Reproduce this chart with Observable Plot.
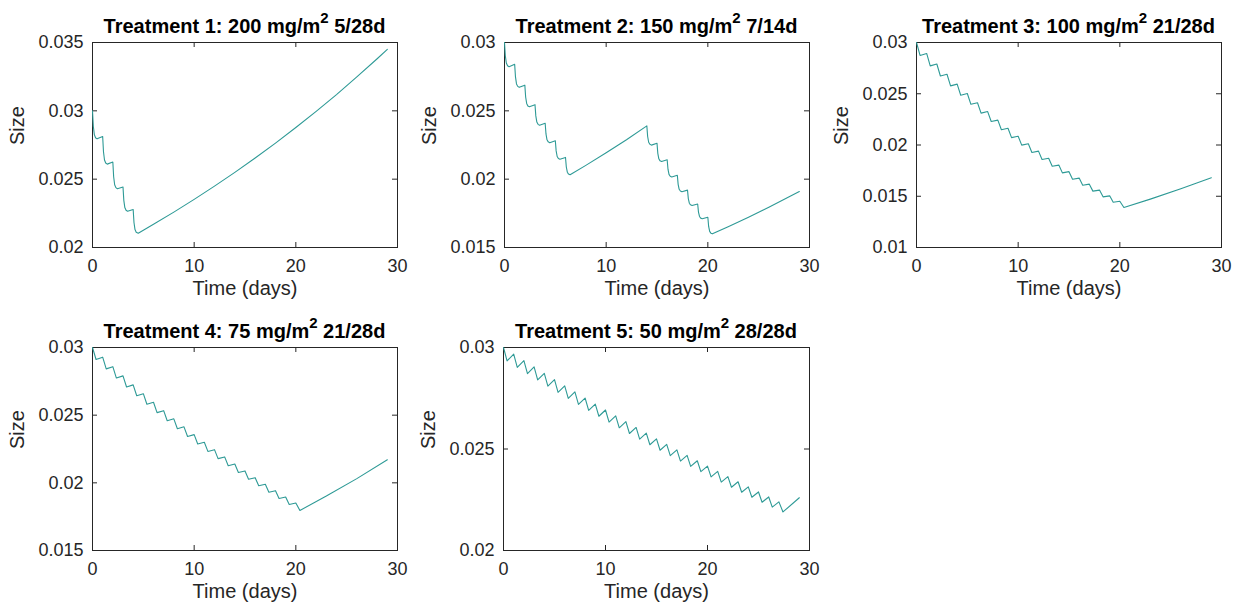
<!DOCTYPE html>
<html>
<head>
<meta charset="utf-8">
<script src="https://cdn.jsdelivr.net/npm/d3@7"></script>
<script src="https://cdn.jsdelivr.net/npm/@observablehq/plot@0.6"></script>
<style>
  html, body { margin: 0; padding: 0; background: #ffffff; }
  #chart { position: relative; width: 1244px; height: 612px; background: #ffffff; overflow: hidden; }
  .panel { position: absolute; }
</style>
</head>
<body>
<div id="chart"></div>
<script>
// ---------- data ----------
const xTicks = [0, 10, 20, 30];

const titleMain = ["Treatment 1: 200 mg/m", "Treatment 2: 150 mg/m", "Treatment 3: 100 mg/m", "Treatment 4: 75 mg/m", "Treatment 5: 50 mg/m"];
const titleSup = ["2", "2", "2", "2", "2"];
const titleTail = [" 5/28d", " 7/14d", " 21/28d", " 21/28d", " 28/28d"];

const yTicks1 = [0.02, 0.025, 0.03, 0.035];
const yTicks2 = [0.015, 0.02, 0.025, 0.03];
const yTicks3 = [0.01, 0.015, 0.02, 0.025, 0.03];
const yTicks4 = [0.015, 0.02, 0.025, 0.03];
const yTicks5 = [0.02, 0.025, 0.03];

const time1 = [0,0.08,0.18,0.3,0.45, 1,1.08,1.18,1.3,1.45, 2,2.08,2.18,2.3,2.45, 3,3.08,3.18,3.3,3.45, 4,4.08,4.18,4.3,4.5, 6,8,10,12,14,16,18,20,22,24,26,28,29];
const size1 = [0.03,0.02887,0.02826,0.02803,0.02795, 0.02812,0.02701,0.0264,0.02618,0.0261, 0.02625,0.02518,0.02459,0.02438,0.0243, 0.02443,0.02345,0.02292,0.02272,0.02265, 0.02278,0.02183,0.02131,0.02112,0.02105, 0.0217,0.02259,0.02352,0.02449,0.0255,0.02655,0.02764,0.02878,0.02996,0.03119,0.03248,0.03381,0.0345];

const time2 = [0,0.08,0.18,0.3,0.45, 1,1.08,1.18,1.3,1.45, 2,2.08,2.18,2.3,2.45, 3,3.08,3.18,3.3,3.45, 4,4.08,4.18,4.3,4.45, 5,5.08,5.18,5.3,5.45, 6,6.08,6.18,6.3,6.45, 8,10,12,
  14,14.08,14.18,14.3,14.45, 15,15.08,15.18,15.3,15.45, 16,16.08,16.18,16.3,16.45, 17,17.08,17.18,17.3,17.45, 18,18.08,18.18,18.3,18.45, 19,19.08,19.18,19.3,19.45, 20,20.08,20.18,20.3,20.45, 22,24,26,28,29];
const size2 = [0.03,0.02903,0.0285,0.0283,0.02823, 0.0284,0.02748,0.02697,0.02679,0.02672, 0.02688,0.02601,0.02554,0.02536,0.0253, 0.02545,0.02463,0.02418,0.02401,0.02395, 0.02409,0.02331,0.02288,0.02273,0.02267, 0.02281,0.02207,0.02166,0.02151,0.02146, 0.02159,0.02089,0.02051,0.02037,0.02032, 0.02101,0.02193,0.02289,
  0.0239,0.02312,0.0227,0.02255,0.02249, 0.02263,0.02189,0.02149,0.02134,0.02129, 0.02142,0.02073,0.02035,0.02021,0.02016, 0.02028,0.01962,0.01926,0.01913,0.01908, 0.0192,0.01858,0.01824,0.01812,0.01807, 0.01818,0.01759,0.01727,0.01715,0.01711, 0.01721,0.01654,0.01618,0.01605,0.016, 0.01652,0.01722,0.01795,0.01871,0.0191];

const time3 = [0,0.35, 1,1.35, 2,2.35, 3,3.35, 4,4.35, 5,5.35, 6,6.35, 7,7.35, 8,8.35, 9,9.35, 10,10.35, 11,11.35, 12,12.35, 13,13.35, 14,14.35, 15,15.35, 16,16.35, 17,17.35, 18,18.35, 19,19.35, 20,20.4, 23,26,29];
const size3 = [0.03,0.02874, 0.02893,0.02772, 0.0279,0.02673, 0.0269,0.02577, 0.02594,0.02485, 0.02502,0.02397, 0.02412,0.02311, 0.02326,0.02229, 0.02243,0.02149, 0.02163,0.02072, 0.02086,0.01999, 0.02012,0.01927, 0.0194,0.01858, 0.01871,0.01792, 0.01804,0.01728, 0.0174,0.01666, 0.01677,0.01607, 0.01618,0.0155, 0.0156,0.01494, 0.01504,0.01441, 0.01451,0.0139, 0.01472,0.01573,0.0168];

const time4 = [0,0.35, 1,1.35, 2,2.35, 3,3.35, 4,4.35, 5,5.35, 6,6.35, 7,7.35, 8,8.35, 9,9.35, 10,10.35, 11,11.35, 12,12.35, 13,13.35, 14,14.35, 15,15.35, 16,16.35, 17,17.35, 18,18.35, 19,19.35, 20,20.4, 23,26,29];
const size4 = [0.03,0.029115, 0.029284,0.02842, 0.028585,0.027742, 0.027903,0.02708, 0.027237,0.026434, 0.026587,0.025803, 0.025953,0.025187, 0.025333,0.024586, 0.024729,0.023999, 0.024138,0.023426, 0.023562,0.022867, 0.023,0.022321, 0.022451,0.021789, 0.021915,0.021268, 0.021391,0.02076, 0.02088,0.020264, 0.020382,0.019781, 0.019896,0.019309, 0.019421,0.018848, 0.018957,0.018398, 0.018505,0.017959, 0.01902,0.02031,0.0217];

const time5 = [0,0.35, 1,1.35, 2,2.35, 3,3.35, 4,4.35, 5,5.35, 6,6.35, 7,7.35, 8,8.35, 9,9.35, 10,10.35, 11,11.35, 12,12.35, 13,13.35, 14,14.35, 15,15.35, 16,16.35, 17,17.35, 18,18.35, 19,19.35, 20,20.35, 21,21.35, 22,22.35, 23,23.35, 24,24.35, 25,25.35, 26,26.35, 27,27.4, 29];
const size5 = [0.03,0.029338, 0.029677,0.029022, 0.029358,0.02871, 0.029042,0.028401, 0.028729,0.028095, 0.02842,0.027792, 0.028113,0.027492, 0.02781,0.027196, 0.027511,0.026904, 0.027215,0.026614, 0.026922,0.026327, 0.026632,0.026044, 0.026345,0.025763, 0.026061,0.025485, 0.02578,0.025211, 0.025503,0.02494, 0.025228,0.024671, 0.024956,0.024405, 0.024687,0.024142, 0.024421,0.023882, 0.024158,0.023625, 0.023898,0.02337, 0.02364,0.023118, 0.023385,0.022869, 0.023133,0.022622, 0.022884,0.022379, 0.022638,0.022138, 0.022394,0.021899, 0.0226];

// ---------- drawing ----------
const FONT = "'Liberation Sans', Arial, Helvetica, sans-serif";
const AXIS = "#262626";
const LINE = "#2e9a96";

function panel(cfg) {
  const { left, top, mLeft, mTop, mRight, mBottom, fw, fh, t, s, yDomain, yTicks, idx } = cfg;
  const data = t.map((v, i) => ({ t: v, s: s[i] }));
  const W = mLeft + fw + mRight, H = mTop + fh + mBottom;
  const svg = Plot.plot({
    width: W, height: H,
    marginLeft: mLeft, marginRight: mRight, marginTop: mTop, marginBottom: mBottom,
    style: { fontFamily: FONT, fontSize: "18px", color: AXIS, background: "transparent", overflow: "visible" },
    x: { domain: [0, 30] },
    y: { domain: yDomain },
    marks: [
      Plot.frame({ stroke: AXIS, strokeWidth: 1 }),
      Plot.tickX(xTicks, { x: d => d, insetBottom: fh - 5, stroke: AXIS }),
      Plot.tickX(xTicks, { x: d => d, insetTop: fh - 5, stroke: AXIS }),
      Plot.tickY(yTicks, { y: d => d, insetRight: fw - 5, stroke: AXIS }),
      Plot.tickY(yTicks, { y: d => d, insetLeft: fw - 5, stroke: AXIS }),
      Plot.axisX(xTicks, { tickSize: 0, tickPadding: 12, label: null, tickFormat: d => String(d), fontSize: 18 }),
      Plot.axisY(yTicks, { tickSize: 0, tickPadding: 9, label: null, tickFormat: d => String(d), fontSize: 18 }),
      Plot.text(["Time (days)"], { text: d => d, frameAnchor: "bottom", dy: 47, fontSize: 20, fill: AXIS }),
      Plot.text(["Size"], { text: d => d, frameAnchor: "left", dx: -75, rotate: -90, fontSize: 20, fill: AXIS }),
      Plot.line(data, { x: "t", y: "s", stroke: LINE, strokeWidth: 1.1 })
    ]
  });
  const title = d3.select(svg).append("text")
    .attr("x", mLeft + fw / 2)
    .attr("y", mTop - 9)
    .attr("text-anchor", "middle")
    .attr("font-family", FONT)
    .attr("font-weight", "bold")
    .attr("font-size", 20)
    .attr("fill", "#000000");
  title.append("tspan").text(titleMain[idx]);
  title.append("tspan").attr("font-size", 15).attr("dy", -10).text(titleSup[idx]);
  title.append("tspan").attr("font-size", 20).attr("dy", 10).text(titleTail[idx]);

  const div = document.createElement("div");
  div.className = "panel";
  div.style.left = left + "px";
  div.style.top = top + "px";
  div.appendChild(svg);
  document.getElementById("chart").appendChild(div);
}

panel({ idx: 0, left: 0,   top: 0,   mLeft: 92, mTop: 42, mRight: 8,  mBottom: 58, fw: 305, fh: 205, t: time1, s: size1, yDomain: [0.02, 0.035], yTicks: yTicks1 });
panel({ idx: 1, left: 412, top: 0,   mLeft: 92, mTop: 42, mRight: 8,  mBottom: 58, fw: 305, fh: 205, t: time2, s: size2, yDomain: [0.015, 0.03], yTicks: yTicks2 });
panel({ idx: 2, left: 824, top: 0,   mLeft: 92, mTop: 42, mRight: 20, mBottom: 58, fw: 305, fh: 205, t: time3, s: size3, yDomain: [0.01, 0.03], yTicks: yTicks3 });
panel({ idx: 3, left: 0,   top: 305, mLeft: 92, mTop: 42, mRight: 8,  mBottom: 62, fw: 305, fh: 203, t: time4, s: size4, yDomain: [0.015, 0.03], yTicks: yTicks4 });
panel({ idx: 4, left: 411, top: 305, mLeft: 92, mTop: 42, mRight: 8,  mBottom: 62, fw: 306, fh: 203, t: time5, s: size5, yDomain: [0.02, 0.03], yTicks: yTicks5 });
</script>
</body>
</html>
